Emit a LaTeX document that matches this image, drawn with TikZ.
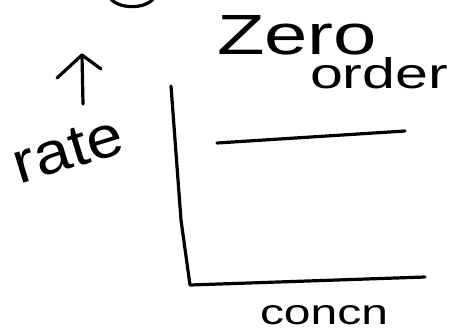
\documentclass[tikz,border=0pt]{standalone}
\usepackage{fontspec}
\setmainfont{Liberation Sans}
\usepackage{graphicx}
\begin{document}
\begin{tikzpicture}[x=1pt,y=-1pt,
  ink/.style={line width=3.2pt,line cap=round,line join=round,black},
  hand/.style={inner sep=0pt,outer sep=0pt,text=black}]
\useasboundingbox (0,0) rectangle (461,333);
% partial letter at top edge
\draw[ink] (110,-2) .. controls (118,9) and (145,10) .. (154,-2);
% labels
\node[hand,anchor=base west] (zero) at (217,54) {\resizebox{160pt}{39pt}{Zero}};
\node[hand,anchor=base west] (order) at (310,88) {\resizebox{138pt}{31pt}{order}};
\node[hand,anchor=base west] (concn) at (260,324) {\resizebox{128pt}{19pt}{concn}};
\node[hand,rotate=17] (rate) at (68,150) {\resizebox{112pt}{38pt}{rate}};
% up arrow
\coordinate (atip) at (82,55);
\coordinate (abase) at (83,104);
\coordinate (awl) at (57,78);
\coordinate (awr) at (101,69);
\draw[ink] (abase) -- (atip);
\draw[ink] (awl) -- (atip) -- (awr);
% axes
\coordinate (ytop) at (171,86);
\coordinate (ymid) at (181,220);
\coordinate (origin) at (190,285);
\coordinate (xend) at (425,277);
\draw[ink] (ytop) -- (ymid) -- (origin) -- (xend);
% zero order line
\coordinate (ls) at (217,143);
\coordinate (le) at (405,131);
\draw[ink] (ls) -- (le);
\end{tikzpicture}
\end{document}
